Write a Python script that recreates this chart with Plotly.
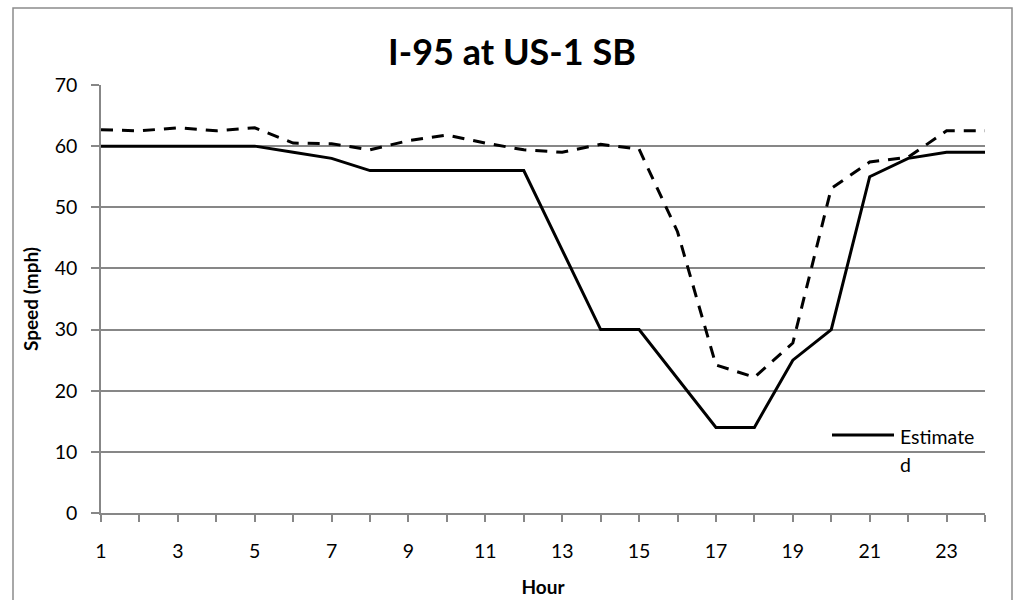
import plotly.graph_objects as go

# Hourly speeds on I-95 at US-1, southbound
hours = list(range(1, 25))
estimated_speed = [60, 60, 60, 60, 60, 59, 58, 56, 56, 56, 56, 56,
                   43, 30, 30, 22, 14, 14, 25, 30, 55, 58, 59, 59]
measured_speed = [62.7, 62.5, 63.0, 62.5, 63.0, 60.5, 60.4, 59.4, 60.9, 61.8, 60.5, 59.4,
                  59.0, 60.3, 59.5, 46.0, 24.2, 22.2, 27.8, 53.1, 57.4, 58.2, 62.5, 62.5]
hour_labels = [str(h) if h % 2 == 1 else "" for h in hours]
speed_ticks = [0, 10, 20, 30, 40, 50, 60, 70]

FONT = "Lato, 'Open Sans', sans-serif"
GRID = "#878787"
TICK_SIZE = 19.5

W, H = 1019, 600
L, R, T, B = 101, 34, 85, 87
PW, PH = W - L - R, H - T - B


def px(x):
    return (x - L) / PW


def py(y):
    return (H - B - y) / PH


fig = go.Figure()
fig.add_trace(go.Scatter(
    x=hours, y=measured_speed, mode="lines", name="Measured",
    line=dict(color="black", width=3, dash="12px,9px"), showlegend=False,
))
fig.add_trace(go.Scatter(
    x=hours, y=estimated_speed, mode="lines", name="Estimated",
    line=dict(color="black", width=3), showlegend=False,
))

# chart frame
fig.add_shape(type="rect", xref="paper", yref="paper",
              x0=px(13), x1=px(1012), y0=py(620), y1=py(8),
              line=dict(color="#8c8c8c", width=1.5), layer="below")

# legend key
fig.add_shape(type="line", xref="paper", yref="paper",
              x0=px(832), x1=px(894), y0=py(435), y1=py(435),
              line=dict(color="black", width=3))
fig.add_annotation(xref="paper", yref="paper", x=px(898), y=py(436),
                   text="Estimate", showarrow=False, xanchor="left", yanchor="middle",
                   font=dict(family=FONT, size=TICK_SIZE, color="black"))
fig.add_annotation(xref="paper", yref="paper", x=px(898), y=py(464),
                   text="d", showarrow=False, xanchor="left", yanchor="middle",
                   font=dict(family=FONT, size=TICK_SIZE, color="black"))

fig.update_layout(
    width=W, height=H,
    margin=dict(l=L, r=R, t=T, b=B, autoexpand=False),
    paper_bgcolor="white", plot_bgcolor="white",
    font=dict(family=FONT, size=TICK_SIZE, color="black"),
    title=dict(text="<b>I-95 at US-1 SB</b>", x=512 / W, xref="container", xanchor="center",
               y=1 - 52 / H, yref="container", yanchor="middle",
               font=dict(family=FONT, size=36, color="black")),
    xaxis=dict(
        range=[1, 24], tickmode="array", tickvals=hours, ticktext=hour_labels,
        showgrid=False, zeroline=False, automargin=False,
        showline=True, linecolor=GRID, linewidth=1.5,
        ticks="outside", ticklen=7, tickcolor=GRID, tickwidth=1.5,
        ticklabelstandoff=13,
        title=dict(text="<b>Hour</b>", font=dict(family=FONT, size=19), standoff=20),
    ),
    yaxis=dict(
        range=[0, 70], tickmode="array", tickvals=speed_ticks,
        showgrid=True, gridcolor=GRID, gridwidth=1.5, zeroline=False, automargin=False,
        showline=True, linecolor=GRID, linewidth=1.5,
        ticks="outside", ticklen=8, tickcolor=GRID, tickwidth=1.5,
        ticklabelstandoff=10,
        title=dict(text="<b>Speed (mph)</b>", font=dict(family=FONT, size=19), standoff=11),
    ),
)

fig.write_html("out.html")
